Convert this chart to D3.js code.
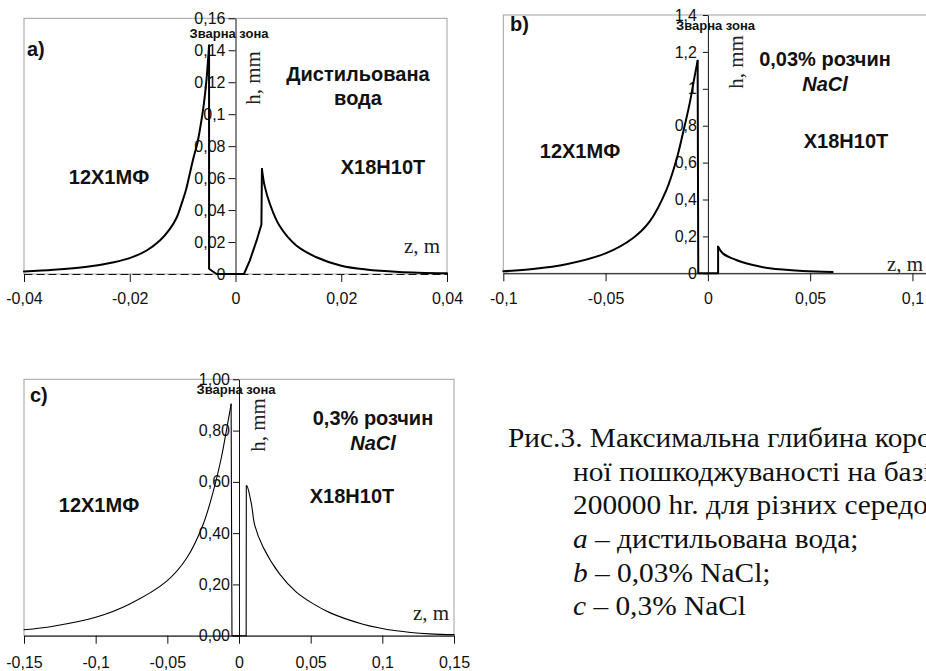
<!DOCTYPE html>
<html>
<head>
<meta charset="utf-8">
<script src="https://cdn.jsdelivr.net/npm/d3@7"></script>
<style>
  body { margin: 0; background: #fff; }
  svg { display: block; }
</style>
</head>
<body>
<div id="wrapper"></div>
<script>
/* global d3 */

/* DATA: [z, m ; h, mm].
   left = 12Х1МФ branch, weld = weld-zone polyline, right = Х18Н10Т branch */
const leftA = [
  [-0.04, 0.0016], [-0.0344, 0.0026], [-0.0281, 0.0045], [-0.023, 0.0074],
  [-0.0199, 0.0101], [-0.0168, 0.0147], [-0.0143, 0.0209], [-0.0124, 0.0282],
  [-0.0111, 0.0355], [-0.0102, 0.0439], [-0.0094, 0.0522], [-0.0088, 0.0605],
  [-0.008, 0.072], [-0.0072, 0.082], [-0.0066, 0.093], [-0.006, 0.106],
  [-0.0055, 0.121], [-0.005, 0.143],
];
const weldA = [
  [-0.005, 0.143], [-0.005, 0.0033], [-0.0036, 0], [0.0016, 0],
  [0.0027, 0.0084], [0.004, 0.021], [0.0049, 0.031], [0.005, 0.0657],
];
const rightA = [
  [0.005, 0.0657], [0.0055, 0.0553], [0.0065, 0.0439], [0.0083, 0.0303],
  [0.0115, 0.0178], [0.0153, 0.0105], [0.02, 0.0052], [0.0247, 0.0028],
  [0.0309, 0.0013], [0.04, 0.0004],
];

const leftB = [
  [-0.1, 0.011], [-0.0855, 0.023], [-0.0692, 0.049], [-0.05, 0.108],
  [-0.0367, 0.19], [-0.0285, 0.28], [-0.0203, 0.451], [-0.0154, 0.614],
  [-0.0122, 0.759], [-0.0089, 0.921], [-0.0065, 1.066], [-0.005, 1.152],
];
const weldB = [[-0.005, 1.152], [-0.0047, 0], [0.005, 0], [0.005, 0.144]];
const rightB = [
  [0.005, 0.144], [0.0073, 0.108], [0.0139, 0.072], [0.022, 0.045],
  [0.0302, 0.027], [0.0464, 0.0125], [0.061, 0.007],
];

const leftC = [
  [-0.15, 0.023], [-0.1297, 0.037], [-0.1, 0.072], [-0.0762, 0.124],
  [-0.05, 0.215], [-0.0367, 0.301], [-0.0251, 0.433], [-0.0181, 0.56],
  [-0.0123, 0.695], [-0.0088, 0.8], [-0.0055, 0.903],
];
const weldC = [[-0.0055, 0.903], [-0.0049, 0], [0.005, 0], [0.0051, 0.584]];
const rightC = [
  [0.0051, 0.584], [0.0055, 0.585], [0.0086, 0.516], [0.011, 0.43],
  [0.0167, 0.347], [0.0284, 0.24], [0.04, 0.17], [0.0516, 0.125],
  [0.0633, 0.09], [0.0865, 0.045], [0.1098, 0.019], [0.133, 0.007],
  [0.15, 0.004],
];

/* TICKS */
const ticksAx = [-0.04, -0.02, 0, 0.02, 0.04];
const ticksAy = [0, 0.02, 0.04, 0.06, 0.08, 0.1, 0.12, 0.14, 0.16];
const ticksBx = [-0.1, -0.05, 0, 0.05, 0.1];
const ticksBy = [0, 0.2, 0.4, 0.6, 0.8, 1, 1.2, 1.4];
const ticksCx = [-0.15, -0.1, -0.05, 0, 0.05, 0.1, 0.15];
const ticksCy = [0, 0.2, 0.4, 0.6, 0.8, 1];

/* LABELS */
const panelLetters = ['a)', 'b)', 'c)'];
const mediums = [['Дистильована', 'вода'], ['0,03% розчин', 'NaCl'], ['0,3% розчин', 'NaCl']];
const steelLeft = '12Х1МФ';
const steelRight = 'Х18Н10Т';
const weldLabel = 'Зварна зона';
const yTitle = 'h, mm';
const xTitle = 'z, m';
const captionLines = [
  ['', 'Рис.3. Максимальна глибина корозій-'],
  ['', 'ної пошкоджуваності на базі'],
  ['', '200000 hr. для різних середовищ:'],
  ['a', ' – дистильована вода;'],
  ['b', ' – 0,03% NaCl;'],
  ['c', ' – 0,3% NaCl'],
];

const sans = "'Liberation Sans', Arial, sans-serif";
const serif = "'Liberation Serif', 'Times New Roman', serif";

const locale = d3.formatLocale({
  decimal: ',', thousands: '\u00a0', grouping: [3], currency: ['', ''], minus: '-',
});
const fmtShort = locale.format('~g');
const fmtFixed = locale.format('.2f');

/* PANEL SETUP */
const panels = [
  {
    left: leftA, weld: weldA, right: rightA,
    xTicks: ticksAx, yTicks: ticksAy, yFormat: fmtShort,
    xDomain: [-0.04, 0.04], xRange: [24, 447],
    yDomain: [0, 0.16], yRange: [274, 18.3],
    lineWidth: 2, dashedBase: true, yTick: 7, yPad: 3, xPad: 11,
    letterPos: [27, 56], weldPos: [229, 37.5], hPos: [260, 78],
    mediumPos: [358, 81, 105], leftPos: [109, 184], rightPos: [383, 174], zPos: [404, 253],
  },
  {
    left: leftB, weld: weldB, right: rightB,
    xTicks: ticksBx, yTicks: ticksBy, yFormat: fmtShort,
    xDomain: [-0.1, 0.112], xRange: [503.3, 937],
    yDomain: [0, 1.4], yRange: [273.3, 15],
    lineWidth: 2, dashedBase: false, yTick: 5, yPad: 6, xPad: 11,
    letterPos: [510, 31], weldPos: [715.5, 29.5], hPos: [743, 62],
    mediumPos: [825, 66, 91], leftPos: [580, 158], rightPos: [846, 148], zPos: [887, 271],
  },
  {
    left: leftC, weld: weldC, right: rightC,
    xTicks: ticksCx, yTicks: ticksCy, yFormat: fmtFixed,
    xDomain: [-0.15, 0.15], xRange: [24, 454],
    yDomain: [0, 1], yRange: [635.7, 379.3],
    lineWidth: 1.1, dashedBase: false, yTick: 6, yPad: 3, xPad: 13,
    letterPos: [30, 402], weldPos: [236, 394], hPos: [265, 425],
    mediumPos: [373, 425, 450], leftPos: [99, 512], rightPos: [352, 503], zPos: [413, 620],
  },
];

const wrapper = d3
  .select('#wrapper')
  .append('svg')
  .attr('width', 926)
  .attr('height', 671);

function drawPanel(p, i) {
  const xScale = d3.scaleLinear().domain(p.xDomain).range(p.xRange);
  const yScale = d3.scaleLinear().domain(p.yDomain).range(p.yRange);
  const g = wrapper.append('g');

  // plot frame
  g.append('rect')
    .attr('x', p.xRange[0])
    .attr('y', p.yRange[1])
    .attr('width', p.xRange[1] - p.xRange[0])
    .attr('height', p.yRange[0] - p.yRange[1])
    .attr('fill', 'none')
    .attr('stroke', '#a0a0a0')
    .attr('stroke-width', 1);

  /* AXES */
  const xAxis = g
    .append('g')
    .attr('transform', `translate(0, ${yScale(0)})`)
    .call(
      d3.axisBottom(xScale)
        .tickValues(p.xTicks)
        .tickFormat(fmtShort)
        .tickSizeInner(8)
        .tickSizeOuter(0)
        .tickPadding(p.xPad)
    );
  xAxis.selectAll('text')
    .attr('font-family', sans)
    .attr('font-size', 16)
    .attr('fill', '#111');
  xAxis.selectAll('line').attr('stroke', '#111');
  xAxis.select('.domain')
    .attr('stroke', '#111')
    .attr('stroke-dasharray', p.dashedBase ? '8,4' : null);

  const yAxis = g
    .append('g')
    .attr('transform', `translate(${xScale(0)}, 0)`)
    .call(
      d3.axisLeft(yScale)
        .tickValues(p.yTicks)
        .tickFormat(p.yFormat)
        .tickSizeInner(p.yTick)
        .tickSizeOuter(0)
        .tickPadding(p.yPad)
    );
  yAxis.selectAll('text')
    .attr('font-family', sans)
    .attr('font-size', 16)
    .attr('fill', '#111');
  yAxis.selectAll('line').attr('stroke', '#111');
  yAxis.select('.domain').attr('stroke', '#111');

  /* CURVES */
  const smooth = d3
    .line()
    .x(d => xScale(d[0]))
    .y(d => yScale(d[1]))
    .curve(d3.curveCatmullRom.alpha(0.5));
  const straight = d3
    .line()
    .x(d => xScale(d[0]))
    .y(d => yScale(d[1]));

  [[p.left, smooth], [p.weld, straight], [p.right, smooth]].forEach(([d, gen]) => {
    g.append('path')
      .datum(d)
      .attr('d', gen)
      .attr('fill', 'none')
      .attr('stroke', '#000')
      .attr('stroke-width', p.lineWidth)
      .attr('stroke-linejoin', 'round')
      .attr('stroke-linecap', 'round');
  });

  /* LABELS */
  const bold = (pos, txt, anchor) =>
    g.append('text')
      .attr('x', pos[0])
      .attr('y', pos[1])
      .attr('text-anchor', anchor || 'middle')
      .attr('font-family', sans)
      .attr('font-weight', 'bold')
      .attr('font-size', 20)
      .attr('fill', '#111')
      .text(txt);

  bold(p.letterPos, panelLetters[i], 'start');
  bold(p.leftPos, steelLeft);
  bold(p.rightPos, steelRight);
  bold([p.mediumPos[0], p.mediumPos[1]], mediums[i][0]);
  const second = bold([p.mediumPos[0], p.mediumPos[2]], mediums[i][1]);
  if (i > 0) second.attr('font-style', 'italic');

  g.append('text')
    .attr('x', p.weldPos[0])
    .attr('y', p.weldPos[1])
    .attr('text-anchor', 'middle')
    .attr('font-family', sans)
    .attr('font-weight', 'bold')
    .attr('font-size', 13)
    .attr('fill', '#111')
    .text(weldLabel);

  g.append('text')
    .attr('transform', `translate(${p.hPos[0]}, ${p.hPos[1]}) rotate(-90)`)
    .attr('text-anchor', 'middle')
    .attr('font-family', serif)
    .attr('font-size', 21)
    .attr('fill', '#222')
    .text(yTitle);

  g.append('text')
    .attr('x', p.zPos[0])
    .attr('y', p.zPos[1])
    .attr('font-family', serif)
    .attr('font-size', 21)
    .attr('fill', '#222')
    .text(xTitle);
}

panels.forEach(drawPanel);

/* CAPTION (slightly wide face, as in the scan) */
const stretch = 1.05;
const caption = wrapper
  .append('text')
  .attr('transform', `translate(508, 447) scale(${stretch}, 1)`)
  .attr('font-family', serif)
  .attr('font-size', 28)
  .attr('fill', '#111');

captionLines.forEach((d, i) => {
  const t = caption
    .append('tspan')
    .attr('x', i === 0 ? 0 : 65 / stretch)
    .attr('y', i * 33.7);
  if (d[0]) t.append('tspan').attr('font-style', 'italic').text(d[0]);
  t.append('tspan').text(d[1]);
});
</script>
</body>
</html>
